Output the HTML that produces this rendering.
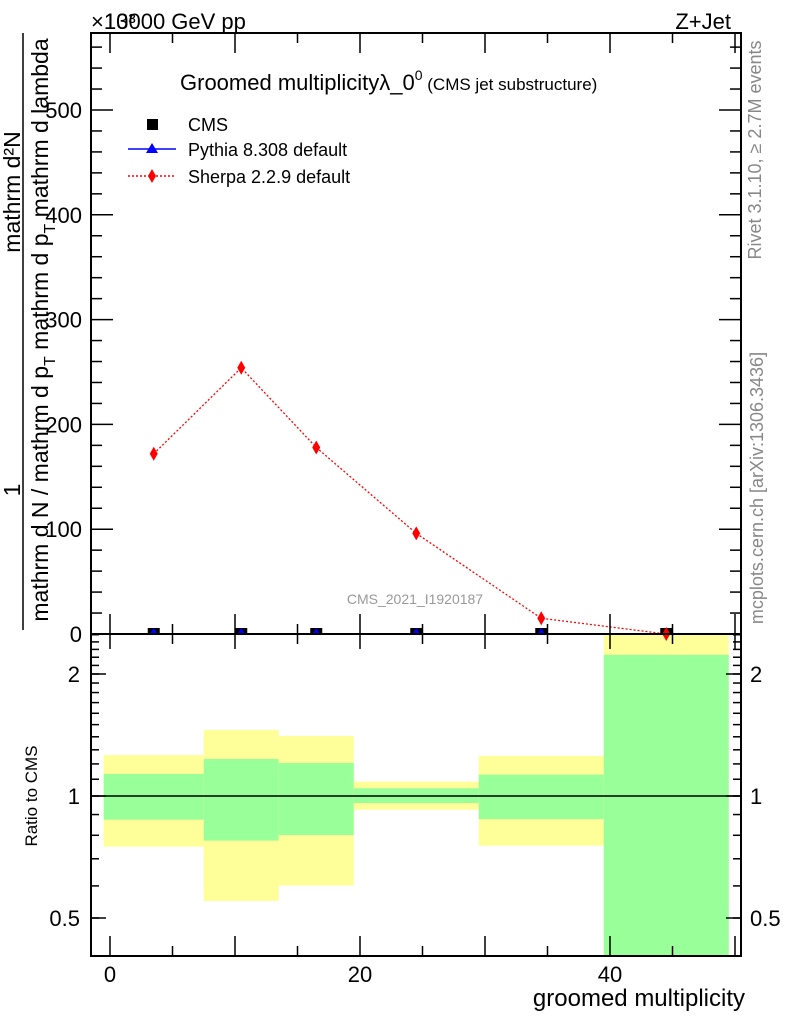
<!DOCTYPE html>
<html><head><meta charset="utf-8"><style>
body{margin:0;background:#fff;}
svg{display:block;font-family:"Liberation Sans",sans-serif;}
</style></head><body>
<svg id="chart" width="786" height="1024" viewBox="0 0 786 1024" xmlns="http://www.w3.org/2000/svg">
<g id="bands"></g>
<g id="marks"></g>
<g id="axes"></g>
<text x="91" y="29" font-size="22">×10³</text>
<text x="104" y="29" font-size="22">13000 GeV pp</text>
<text x="731" y="29" font-size="22" text-anchor="end">Z+Jet</text>
<text x="180" y="90" font-size="22">Groomed multiplicityλ_0<tspan font-size="14" dy="-10">0</tspan><tspan font-size="17" dy="10"> (CMS jet substructure)</tspan></text>
<g>
<rect x="147" y="119" width="11" height="11" fill="#000"/>
<text x="188" y="131" font-size="18">CMS</text>
<line x1="128" y1="149" x2="176" y2="149" stroke="#00f" stroke-width="1.5"/>
<polygon points="152,143 146,153 158,153" fill="#00f"/>
<text x="188" y="156" font-size="18">Pythia 8.308 default</text>
<line x1="128" y1="176" x2="176" y2="176" stroke="#f00" stroke-width="1.5" stroke-dasharray="2,2"/>
<polygon points="152,169 156,176 152,183 148,176" fill="#f00"/>
<text x="188" y="183" font-size="18">Sherpa 2.2.9 default</text>
</g>
<text x="415" y="604" font-size="14" fill="#999" text-anchor="middle">CMS_2021_I1920187</text>
<text transform="translate(761,150) rotate(-90)" font-size="18" fill="#888" text-anchor="middle">Rivet 3.1.10, ≥ 2.7M events</text>
<text transform="translate(763,488) rotate(-90)" font-size="18" fill="#888" text-anchor="middle">mcplots.cern.ch [arXiv:1306.3436]</text>
<g>
<text transform="translate(20,490) rotate(-90)" font-size="23" text-anchor="middle">1</text>
<text transform="translate(20,192) rotate(-90)" font-size="23" text-anchor="middle">mathrm d²N</text>
<line x1="23" y1="33" x2="23" y2="630" stroke="#000" stroke-width="1.5"/>
<text transform="translate(48,330) rotate(-90)" font-size="23" text-anchor="middle">mathrm d N / mathrm d p<tspan font-size="16" dy="7">T</tspan><tspan dy="-7"> mathrm d p</tspan><tspan font-size="16" dy="7">T</tspan><tspan dy="-7"> mathrm d lambda</tspan></text>
</g>
<text transform="translate(37,796) rotate(-90)" font-size="17" text-anchor="middle">Ratio to CMS</text>
<text x="745" y="1006" font-size="24" text-anchor="end">groomed multiplicity</text>
</svg>
<script>
const binLo=[-0.5,7.5,13.5,19.5,29.5,39.5];
const binHi=[7.5,13.5,19.5,29.5,39.5,49.5];
const xCenters=[3.5,10.5,16.5,24.5,34.5,44.5];
const cmsVals=[0,0,0,0,0,0];
const pythiaVals=[0,0,0,0,0,0];
const sherpaVals=[172,254,178,96,15,0];
const yellowUp=[1.262,1.455,1.406,1.085,1.256,3];
const yellowDn=[0.75,0.551,0.601,0.925,0.754,0.3];
const greenUp=[1.133,1.234,1.206,1.045,1.129,2.23];
const greenDn=[0.874,0.776,0.801,0.961,0.877,0.3];
const xTicks=[0,20,40];
const yTicks=[0,100,200,300,400,500];
const rTicks=[0.5,1,2];
const NS='http://www.w3.org/2000/svg';
const L=91,R=741,T=33,M=634,B=956;
const X=v=>110+12.5*v;
const Y=v=>M-1.048*v;
const RY=r=>Math.min(B,Math.max(M,796-122*Math.log2(r)));
function mk(p,t,a){const e=document.createElementNS(NS,t);for(const k in a)e.setAttribute(k,a[k]);p.appendChild(e);return e;}
const bands=document.getElementById('bands'),marks=document.getElementById('marks'),axes=document.getElementById('axes');
for(let i=0;i<binLo.length;i++){
 const y=mk(bands,'rect',{x:X(binLo[i]),y:RY(yellowUp[i]),width:X(binHi[i])-X(binLo[i]),height:RY(yellowDn[i])-RY(yellowUp[i]),fill:'#ffff99'});
 
 
 const g=mk(bands,'rect',{x:X(binLo[i]),y:RY(greenUp[i]),width:X(binHi[i])-X(binLo[i]),height:RY(greenDn[i])-RY(greenUp[i]),fill:'#99ff99'});
 
 
}
mk(bands,'line',{x1:L,y1:796,x2:R,y2:796,stroke:'#000','stroke-width':1.5});
const pl=mk(marks,'polyline',{points:xCenters.map((x,i)=>X(x)+','+Y(sherpaVals[i])).join(' '),fill:'none',stroke:'#f00','stroke-width':1.3,'stroke-dasharray':'2,2'});


for(let i=0;i<xCenters.length;i++){
 const cx=X(xCenters[i]);
 const s=mk(marks,'rect',{x:cx-6,y:Y(cmsVals[i])-6,width:12,height:6,fill:'#000'});
 
 
 const py=Y(pythiaVals[i]);
 const tr=mk(marks,'polygon',{points:`${cx},${py-6} ${cx-4},${py} ${cx+4},${py}`,fill:i==5?'#f00':'#00f'});
 
 
 const sy=Y(sherpaVals[i]);
 const d=mk(marks,'polygon',{points:`${cx},${sy-7} ${cx+4},${sy} ${cx},${sy+7} ${cx-4},${sy}`,fill:'#f00'});
 
 
}
mk(axes,'rect',{x:L,y:T,width:R-L,height:M-T,fill:'none',stroke:'#000','stroke-width':2});
mk(axes,'rect',{x:L,y:M,width:R-L,height:B-M,fill:'none',stroke:'#000','stroke-width':2});
const ln=(a,b,c,d)=>mk(axes,'line',{x1:a,y1:b,x2:c,y2:d,stroke:'#000','stroke-width':1.5});
for(let v=0;v<=50;v+=5){const x=X(v),big=v%10==0?20:10;
 ln(x,T,x,T+big);ln(x,M,x,M-big);ln(x,M,x,M+big/2+5);ln(x,B,x,B-big);}
for(let v=0;v<=560;v+=20){const y=Y(v);if(y<T)continue;const big=v%100==0?22:11;ln(L,y,L+big,y);ln(R,y,R-big,y);}
for(let r=0.4;r<=2.55;r+=0.1){const y=RY(r);if(y<=M||y>=B)continue;ln(L,y,L+8,y);ln(R,y,R-8,y);}
rTicks.forEach(r=>{const y=RY(r);ln(L,y,L+15,y);ln(R,y,R-15,y);
 const t=mk(axes,'text',{x:80,y:y+8,'font-size':22,'text-anchor':'end'});t.textContent=r;
 
 
 const t2=mk(axes,'text',{x:750,y:y+8,'font-size':22});t2.textContent=r;
 
 });
yTicks.forEach(v=>{const t=mk(axes,'text',{x:82,y:Y(v)+8,'font-size':22,'text-anchor':'end'});t.textContent=v;
 
 });
xTicks.forEach(v=>{const t=mk(axes,'text',{x:X(v),y:982,'font-size':22,'text-anchor':'middle'});t.textContent=v;
 
 });
</script>
</body></html>
